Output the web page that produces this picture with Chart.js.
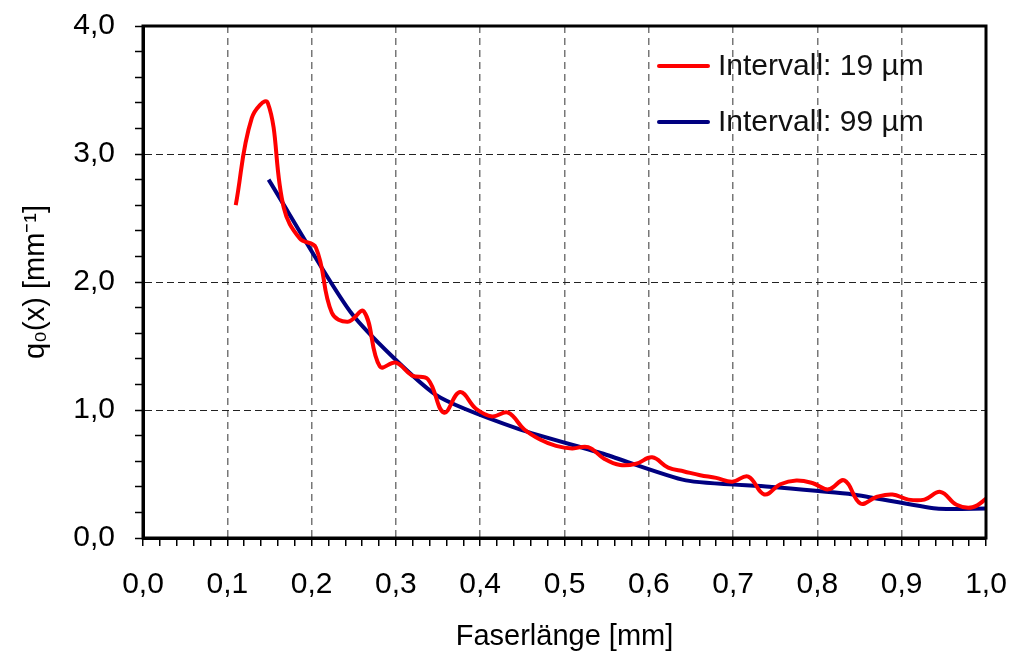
<!DOCTYPE html>
<html>
<head>
<meta charset="utf-8">
<script src="https://cdn.jsdelivr.net/npm/chart.js@4.4.0/dist/chart.umd.min.js"></script>
<style>
  body { margin: 0; background: #fff; }
  #wrap { position: relative; width: 1010px; height: 654px; }
  #legend { position: absolute; left: 657px; top: 50px; font-family: "Liberation Sans", Arial, sans-serif; font-size: 30px; line-height: 30px; color: #111; }
  #legend div { height: 56px; display: flex; align-items: flex-start; white-space: nowrap; }
  #legend span.line { display: inline-block; width: 53px; height: 4px; margin-top: 14px; margin-right: 8px; border-radius: 2px; }
</style>
</head>
<body>
<div id="wrap">
  <canvas id="graph" width="1010" height="654"></canvas>
  <div id="legend"></div>
</div>
<script>
/*------------------------------*/
/*     DONNEES                  */
/*------------------------------*/
var x_19 = [0.110, 0.129, 0.148, 0.167, 0.186, 0.205, 0.224, 0.243, 0.262, 0.281,
            0.300, 0.319, 0.338, 0.357, 0.376, 0.395, 0.414, 0.433, 0.452, 0.471,
            0.490, 0.509, 0.528, 0.547, 0.566, 0.585, 0.604, 0.623, 0.642, 0.661,
            0.680, 0.699, 0.718, 0.737, 0.756, 0.775, 0.794, 0.813, 0.832, 0.851,
            0.870, 0.889, 0.908, 0.927, 0.946, 0.965, 0.984, 1.003]
var y_19 = [2.60, 3.28, 3.40, 2.58, 2.34, 2.27, 1.76, 1.69, 1.77, 1.34,
            1.37, 1.27, 1.24, 0.98, 1.14, 1.01, 0.95, 0.98, 0.85, 0.77,
            0.72, 0.70, 0.71, 0.62, 0.57, 0.58, 0.63, 0.55, 0.52, 0.49,
            0.47, 0.44, 0.48, 0.34, 0.42, 0.45, 0.43, 0.38, 0.45, 0.27,
            0.32, 0.34, 0.30, 0.30, 0.36, 0.26, 0.24, 0.32]

var x_99 = [0.149, 0.248, 0.347, 0.446, 0.545, 0.644, 0.743, 0.842, 0.941, 1.0]
var y_99 = [2.80, 1.75, 1.12, 0.85, 0.66, 0.45, 0.40, 0.34, 0.23, 0.23]

var labels_series = ['Intervall: 19 µm', 'Intervall: 99 µm']
var couleurs = ['#ff0000', '#000080']

function points(xs, ys) {
    return xs.map(function (x, i) { return {x: x, y: ys[i]} })
}
function virgule(v) {
    return v.toFixed(1).replace('.', ',')
}

var police = "'Liberation Sans', Arial, sans-serif"

/*------------------------------*/
/*     CADRE                    */
/*------------------------------*/
var cadre = {
    id: 'cadre',
    afterDraw: function (chart) {
        var a = chart.chartArea
        var ctx = chart.ctx
        ctx.save()
        ctx.strokeStyle = '#000'
        ctx.lineWidth = 3
        ctx.strokeRect(a.left, a.top, a.right - a.left, a.bottom - a.top)
        ctx.restore()
    }
}

/*------------------------------*/
/*     GRAPHIQUE                */
/*------------------------------*/
var ctx_graph = document.getElementById('graph').getContext('2d')

var data_graph = {
    datasets: [{
        label: labels_series[0],
        data: points(x_19, y_19),
        borderColor: couleurs[0],
        borderWidth: 4,
        pointRadius: 0,
        tension: 0.4,
        fill: false
    }, {
        label: labels_series[1],
        data: points(x_99, y_99),
        borderColor: couleurs[1],
        borderWidth: 4,
        pointRadius: 0,
        tension: 0.2,
        fill: false
    }]
}

var config_graph = {
    type: 'line',
    data: data_graph,
    plugins: [cadre],
    options: {
      responsive: false,
      animation: false,
      layout: { padding: { top: 26, right: 24, left: 0, bottom: 0 } },
      plugins: {
        legend: { display: false },
        tooltip: { enabled: false }
      },
      scales: {
        x: {
          type: 'linear',
          min: 0, max: 1,
          afterFit: function (s) {
            s.height = 116
            s.paddingLeft = 0
            s.paddingRight = 0
          },
          ticks: {
            stepSize: 0.02,
            autoSkip: false,
            maxRotation: 0,
            padding: 21,
            color: '#000',
            font: { family: police, size: 30 },
            callback: function (v) {
              return Math.round(v * 100) % 10 === 0 ? virgule(v) : ''
            }
          },
          grid: {
            color: function (c) {
              return Math.round(c.tick.value * 100) % 10 === 0 ? '#777' : 'rgba(0,0,0,0)'
            },
            lineWidth: 1.5,
            tickColor: '#000',
            tickLength: 8,
            tickWidth: 1.5
          },
          border: { color: '#000', width: 3, dash: [7, 5] },
          title: {
            display: true,
            text: 'Faserlänge [mm]',
            color: '#000',
            font: { family: police, size: 29 },
            padding: { top: 0, bottom: 0 }
          }
        },
        y: {
          min: 0, max: 4,
          afterFit: function (s) {
            s.width = 143
            s.paddingTop = 0
            s.paddingBottom = 0
          },
          ticks: {
            stepSize: 0.2,
            autoSkip: false,
            padding: 20,
            color: '#000',
            font: { family: police, size: 30 },
            callback: function (v) {
              return Math.round(v * 10) % 10 === 0 ? virgule(v) : ''
            }
          },
          grid: {
            color: function (c) {
              return Math.round(c.tick.value * 10) % 10 === 0 ? '#222' : 'rgba(0,0,0,0)'
            },
            lineWidth: 1,
            tickColor: '#000',
            tickLength: 8,
            tickWidth: 1.5
          },
          border: { color: '#000', width: 3, dash: [7, 4] },
          title: {
            display: true,
            text: 'q₀(x) [mm⁻¹]',
            color: '#000',
            font: { family: police, size: 29 },
            padding: { top: 19, bottom: 0 }
          }
        }
      }
    }
}
var graph = new Chart(ctx_graph, config_graph)

/*------------------------------*/
/*     LEGENDE                  */
/*------------------------------*/
var legende = document.getElementById('legend')
labels_series.forEach(function (lab, i) {
    var ligne = document.createElement('div')
    var trait = document.createElement('span')
    trait.className = 'line'
    trait.style.background = couleurs[i]
    ligne.appendChild(trait)
    ligne.appendChild(document.createTextNode(lab))
    legende.appendChild(ligne)
})
</script>
</body>
</html>
